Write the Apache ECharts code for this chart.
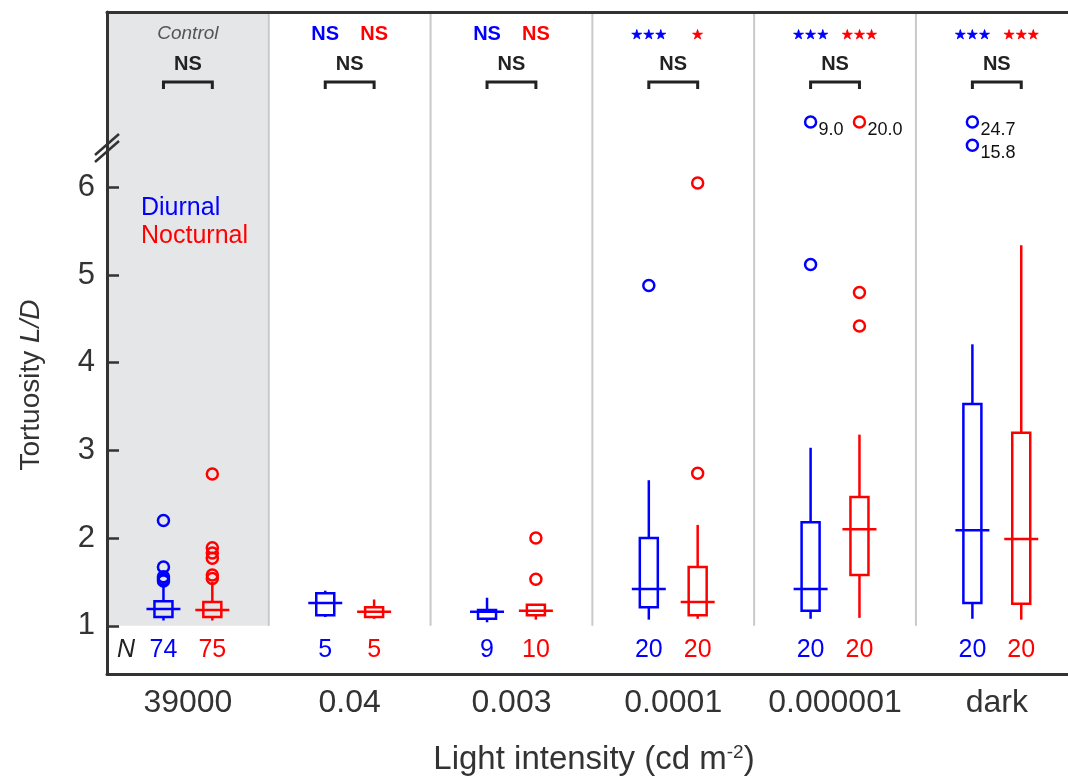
<!DOCTYPE html>
<html><head><meta charset="utf-8">
<script src="https://cdn.jsdelivr.net/npm/echarts@6/dist/echarts.min.js"></script>
<style>html,body{margin:0;padding:0;background:#fff}#c{width:1068px;height:780px}</style>
</head><body><div id="c"></div>
<script>
// ---------- data ----------
const categories = ['39000', '0.04', '0.003', '0.0001', '0.000001', 'dark'];
const groupNote = ['Control', '', '', '', '', ''];
const yTicks = [1, 2, 3, 4, 5, 6];
// [lower whisker, Q1, median, Q3, upper whisker]
const diurnalBox = [
  [1.06, 1.10, 1.19, 1.28, 1.49],
  [1.10, 1.12, 1.26, 1.37, 1.40],
  [1.04, 1.08, 1.16, 1.18, 1.32],
  [1.07, 1.21, 1.42, 2.00, 2.66],
  [1.08, 1.17, 1.42, 2.18, 3.03],
  [1.08, 1.26, 2.09, 3.53, 4.21]
];
const nocturnalBox = [
  [1.06, 1.10, 1.18, 1.27, 1.50],
  [1.08, 1.10, 1.16, 1.21, 1.30],
  [1.07, 1.12, 1.17, 1.24, 1.24],
  [1.08, 1.12, 1.27, 1.67, 2.15],
  [1.09, 1.58, 2.10, 2.47, 3.18],
  [1.07, 1.25, 1.99, 3.20, 5.34]
];
const diurnalOutliers = [[1.51, 1.53, 1.56, 1.67, 2.20], [], [], [4.88], [5.12], []];
const nocturnalOutliers = [[1.54, 1.58, 1.77, 1.83, 1.89, 2.73], [], [1.53, 2.00], [2.74, 6.05], [4.42, 4.80], []];
// outliers beyond the axis break
const diurnalBroken = [[], [], [], [], [9.0], [24.7, 15.8]];
const nocturnalBroken = [[], [], [], [], [20.0], []];
const diurnalN = [74, 5, 9, 20, 20, 20];
const nocturnalN = [75, 5, 10, 20, 20, 20];
const diurnalSig = ['', 'NS', 'NS', '***', '***', '***'];
const nocturnalSig = ['', 'NS', 'NS', '*', '***', '***'];
const betweenSig = ['NS', 'NS', 'NS', 'NS', 'NS', 'NS'];

// ---------- styling ----------
const BLUE = '#0000ff', RED = '#ff0000', DARK = '#333333';
const FONT = '"Liberation Sans", Arial, sans-serif';
const OFF = 0.151;              // half distance between paired boxes (axis units)
const BROKEN_LEVELS = [6.745, 6.48]; // display levels above the break
const X_MAX = 5.94;             // last panel runs past the right edge

const chart = echarts.init(document.getElementById('c'), null, {renderer: 'canvas'});

function boxRenderer(color) {
  return function (params, api) {
    const x = api.value(0);
    const lo = api.coord([x, api.value(1)]);
    const q1 = api.coord([x, api.value(2)]);
    const md = api.coord([x, api.value(3)]);
    const q3 = api.coord([x, api.value(4)]);
    const hi = api.coord([x, api.value(5)]);
    const cx = lo[0];
    const st = {stroke: color, lineWidth: 2.5, fill: null};
    return {type: 'group', children: [
      {type: 'line', shape: {x1: cx, y1: hi[1], x2: cx, y2: q3[1]}, style: st},
      {type: 'line', shape: {x1: cx, y1: q1[1], x2: cx, y2: lo[1]}, style: st},
      {type: 'rect', shape: {x: cx - 9, y: q3[1], width: 18, height: q1[1] - q3[1]}, style: st},
      {type: 'line', shape: {x1: cx - 17, y1: md[1], x2: cx + 17, y2: md[1]}, style: st}
    ]};
  };
}

function boxData(arr, side) {
  return arr.map((b, i) => [i + 0.5 + side * OFF].concat(b));
}
function outlierData(arr, side) {
  const out = [];
  arr.forEach((vals, i) => vals.forEach(v => out.push([i + 0.5 + side * OFF, v])));
  return out;
}
function brokenData(arr, side) {
  const out = [];
  arr.forEach((vals, i) => {
    vals.slice().sort((a, b) => b - a).forEach((v, r) => out.push([i + 0.5 + side * OFF, v, r]));
  });
  return out;
}

function brokenRenderer(color) {
  return function (params, api) {
    const x = api.value(0), v = api.value(1), r = api.value(2);
    const p = api.coord([x, BROKEN_LEVELS[r]]);
    return {type: 'group', children: [
      {type: 'circle', shape: {cx: p[0], cy: p[1], r: 5.5}, style: {fill: null, stroke: color, lineWidth: 2.5}},
      {type: 'text', style: {x: p[0] + 8, y: p[1] + 8, text: v.toFixed(1), fill: '#111',
        font: '18px ' + FONT, align: 'left', verticalAlign: 'middle'}}
    ]};
  };
}

function panelRenderer(params, api) {
  const i = api.value(0);
  const a = api.coord([i, 8.0]);
  const b = api.coord([i + 1, 1.0]);
  const children = [];
  if (groupNote[i] === 'Control') {
    children.push({type: 'rect', shape: {x: a[0], y: a[1], width: b[0] - a[0], height: b[1] - a[1]},
      style: {fill: '#e5e6e8'}});
  }
  if (i > 0) {
    children.push({type: 'line', shape: {x1: a[0], y1: a[1], x2: a[0], y2: b[1]},
      style: {stroke: '#c9c9c9', lineWidth: 2}});
  }
  return {type: 'group', children};
}

function sigText(s, x, color) {
  if (s.indexOf('*') >= 0) {
    return {type: 'text', style: {x: x, y: 35, text: s.replace(/\*/g, '\u2605'), fill: color,
      font: '13.5px "DejaVu Sans", sans-serif', align: 'center', verticalAlign: 'middle',
      stroke: color, lineWidth: 0.6}};
  }
  return {type: 'text', style: {x: x, y: 34, text: s, fill: color,
    font: 'bold 20px ' + FONT, align: 'center', verticalAlign: 'middle'}};
}

function annotRenderer(params, api) {
  const i = api.value(0);
  const xd = api.coord([i + 0.5 - OFF, 1])[0];
  const xn = api.coord([i + 0.5 + OFF, 1])[0];
  const xc = api.coord([i + 0.5, 1])[0];
  const ch = [];
  if (groupNote[i]) {
    ch.push({type: 'text', style: {x: xc, y: 34, text: groupNote[i], fill: '#555',
      font: 'italic 19px ' + FONT, align: 'center', verticalAlign: 'middle'}});
  }
  if (diurnalSig[i]) ch.push(sigText(diurnalSig[i], xd, BLUE));
  if (nocturnalSig[i]) ch.push(sigText(nocturnalSig[i], xn, RED));
  ch.push({type: 'text', style: {x: xc, y: 64, text: betweenSig[i], fill: '#222',
    font: 'bold 20px ' + FONT, align: 'center', verticalAlign: 'middle'}});
  ch.push({type: 'polyline', shape: {points: [[xd, 89], [xd, 82], [xn, 82], [xn, 89]]},
    style: {stroke: '#222', lineWidth: 3, fill: null}});
  ch.push({type: 'text', style: {x: xd, y: 650, text: String(diurnalN[i]), fill: BLUE,
    font: '25px ' + FONT, align: 'center', verticalAlign: 'middle'}});
  ch.push({type: 'text', style: {x: xn, y: 650, text: String(nocturnalN[i]), fill: RED,
    font: '25px ' + FONT, align: 'center', verticalAlign: 'middle'}});
  if (i === 0) {
    ch.push({type: 'text', style: {x: 126, y: 650, text: 'N', fill: '#222',
      font: 'italic 25px ' + FONT, align: 'center', verticalAlign: 'middle'}});
  }
  return {type: 'group', children: ch};
}

const option = {
  animation: false,
  backgroundColor: '#ffffff',
  grid: {left: 107, top: 12, right: 0, height: 662, containLabel: false},
  xAxis: [{
    type: 'value', min: 0, max: X_MAX, position: 'bottom',
    axisLine: {show: true, onZero: false, lineStyle: {color: DARK, width: 3}},
    axisTick: {show: false},
    splitLine: {show: false},
    axisLabel: {
      customValues: categories.map((c, i) => i + 0.5),
      formatter: v => categories[Math.round(v - 0.5)],
      fontSize: 32, color: DARK, fontFamily: FONT, margin: 13
    }
  }, {
    type: 'value', min: 0, max: X_MAX, position: 'top',
    axisLine: {show: true, onZero: false, lineStyle: {color: DARK, width: 3}},
    axisTick: {show: false}, axisLabel: {show: false}, splitLine: {show: false}
  }],
  yAxis: {
    type: 'value', min: 0.45, max: 8.0,
    axisLine: {show: true, onZero: false, lineStyle: {color: DARK, width: 3}},
    axisTick: {show: true, inside: true, length: 12, customValues: yTicks, lineStyle: {color: DARK, width: 2.5}},
    axisLabel: {customValues: yTicks, fontSize: 31, color: DARK, fontFamily: FONT, margin: 12},
    splitLine: {show: false}
  },
  graphic: [
    {type: 'line', shape: {x1: 95, y1: 155, x2: 119, y2: 134}, style: {stroke: DARK, lineWidth: 2.5}, z: 100},
    {type: 'line', shape: {x1: 95, y1: 162, x2: 119, y2: 141}, style: {stroke: DARK, lineWidth: 2.5}, z: 100},
    {type: 'text', x: 141, y: 208, style: {text: 'Diurnal', fill: BLUE, font: '25px ' + FONT, verticalAlign: 'middle'}, z: 100},
    {type: 'text', x: 141, y: 236, style: {text: 'Nocturnal', fill: RED, font: '25px ' + FONT, verticalAlign: 'middle'}, z: 100},
    {type: 'text', x: 31, y: 385, rotation: Math.PI / 2,
      style: {text: 'Tortuosity {it|L/D}', fill: DARK, font: '28px ' + FONT, align: 'center', verticalAlign: 'middle',
        rich: {it: {fontStyle: 'italic', fontSize: 28, fontFamily: FONT, fill: DARK}}}, z: 100},
    {type: 'text', x: 594, y: 760,
      style: {text: 'Light intensity (cd m{sup|-2})', fill: DARK, font: '33px ' + FONT, align: 'center', verticalAlign: 'middle',
        rich: {sup: {fontSize: 19, fontFamily: FONT, fill: DARK, verticalAlign: 'top', padding: [0, 0, 14, 0]}}}, z: 100}
  ],
  series: [
    {type: 'custom', name: 'panels', z: 0, silent: true, data: categories.map((c, i) => [i]),
      renderItem: panelRenderer, encode: {x: 0}},
    {type: 'custom', name: 'Diurnal', z: 5, data: boxData(diurnalBox, -1), renderItem: boxRenderer(BLUE),
      encode: {x: 0, y: [1, 2, 3, 4, 5]}},
    {type: 'custom', name: 'Nocturnal', z: 5, data: boxData(nocturnalBox, 1), renderItem: boxRenderer(RED),
      encode: {x: 0, y: [1, 2, 3, 4, 5]}},
    {type: 'scatter', name: 'Diurnal outliers', z: 6, data: outlierData(diurnalOutliers, -1), symbol: 'circle', symbolSize: 11,
      itemStyle: {color: 'rgba(0,0,0,0)', borderColor: BLUE, borderWidth: 2.5, opacity: 1}},
    {type: 'scatter', name: 'Nocturnal outliers', z: 6, data: outlierData(nocturnalOutliers, 1), symbol: 'circle', symbolSize: 11,
      itemStyle: {color: 'rgba(0,0,0,0)', borderColor: RED, borderWidth: 2.5, opacity: 1}},
    {type: 'custom', name: 'Diurnal broken', z: 6, data: brokenData(diurnalBroken, -1), renderItem: brokenRenderer(BLUE), encode: {x: 0}},
    {type: 'custom', name: 'Nocturnal broken', z: 6, data: brokenData(nocturnalBroken, 1), renderItem: brokenRenderer(RED), encode: {x: 0}},
    {type: 'custom', name: 'annotations', z: 7, silent: true, data: categories.map((c, i) => [i]),
      renderItem: annotRenderer, encode: {x: 0}}
  ]
};
chart.setOption(option);
</script>
</body></html>
